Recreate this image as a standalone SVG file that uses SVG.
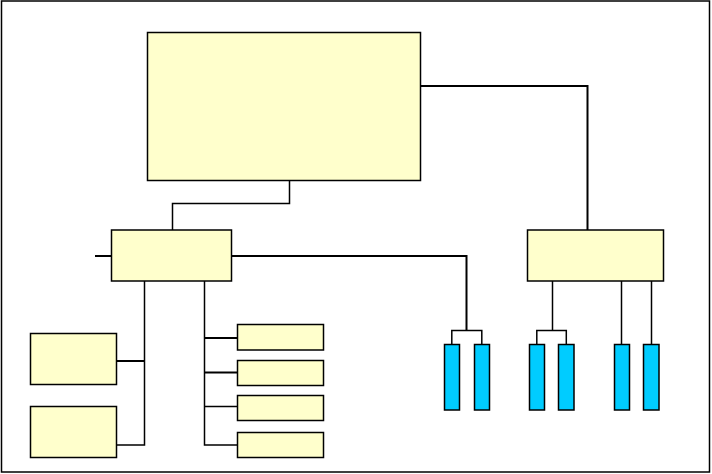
<svg xmlns="http://www.w3.org/2000/svg" width="712" height="474" viewBox="0 0 712 474">
<style>
.y{fill:#FFFFCC;stroke:#000;stroke-width:1.5}
.c{fill:#00CCFF;stroke:#000;stroke-width:1.5}
.ln{fill:none;stroke:#000;stroke-width:1.5}
.tk{fill:none;stroke:#000;stroke-width:2}
</style>
<rect x="0" y="0" width="712" height="474" fill="#fff"/>
<rect id="frame" x="1.5" y="1" width="708" height="471" fill="none" stroke="#000" stroke-width="1.5"/>
<g id="connectors">
<polyline class="tk" points="420,86 587.5,86 587.5,230"/>
<polyline class="ln" points="289.5,180 289.5,203.5 172.5,203.5 172.5,230"/>
<line class="tk" x1="95" y1="256" x2="111.5" y2="256"/>
<polyline class="tk" points="231.5,256 466.5,256 466.5,330.5"/>
<polyline class="ln" points="451.8,344 451.8,330.5 481.8,330.5 481.8,344"/>
<line class="ln" x1="552.5" y1="281" x2="552.5" y2="330.5"/>
<polyline class="ln" points="536.8,344 536.8,330.5 566.3,330.5 566.3,344"/>
<line class="ln" x1="621.5" y1="281" x2="621.5" y2="344"/>
<line class="ln" x1="651.5" y1="281" x2="651.5" y2="344"/>
<polyline class="ln" points="144.5,281 144.5,445 116.5,445"/>
<line class="tk" x1="116.5" y1="361" x2="144.5" y2="361"/>
<polyline class="ln" points="204.5,281 204.5,445 237.5,445"/>
<line class="tk" x1="204.5" y1="338" x2="237.5" y2="338"/>
<line class="tk" x1="204.5" y1="372.5" x2="237.5" y2="372.5"/>
<line class="ln" x1="204.5" y1="406.5" x2="237.5" y2="406.5"/>
</g>
<g id="main"><rect class="y" x="147.5" y="32.5" width="273" height="148"/></g>
<g id="midLeft"><rect class="y" x="111.5" y="230" width="120" height="51"/></g>
<g id="midRight"><rect class="y" x="527.5" y="230" width="136" height="51"/></g>
<g id="leftA"><rect class="y" x="30.5" y="333.5" width="86" height="51"/></g>
<g id="leftB"><rect class="y" x="30.5" y="406.5" width="86" height="51"/></g>
<g id="r1"><rect class="y" x="237.5" y="324.5" width="86" height="25.5"/></g>
<g id="r2"><rect class="y" x="237.5" y="360.5" width="86" height="25"/></g>
<g id="r3"><rect class="y" x="237.5" y="395.5" width="86" height="25"/></g>
<g id="r4"><rect class="y" x="237.5" y="432.5" width="86" height="25"/></g>
<g id="c1"><rect class="c" x="444.5" y="344.5" width="15" height="65.5"/></g>
<g id="c2"><rect class="c" x="474.5" y="344.5" width="15" height="65.5"/></g>
<g id="c3"><rect class="c" x="529.5" y="344.5" width="15" height="65.5"/></g>
<g id="c4"><rect class="c" x="558.5" y="344.5" width="15.5" height="65.5"/></g>
<g id="c5"><rect class="c" x="614.5" y="344.5" width="15" height="65.5"/></g>
<g id="c6"><rect class="c" x="643.5" y="344.5" width="15.5" height="65.5"/></g>
</svg>
